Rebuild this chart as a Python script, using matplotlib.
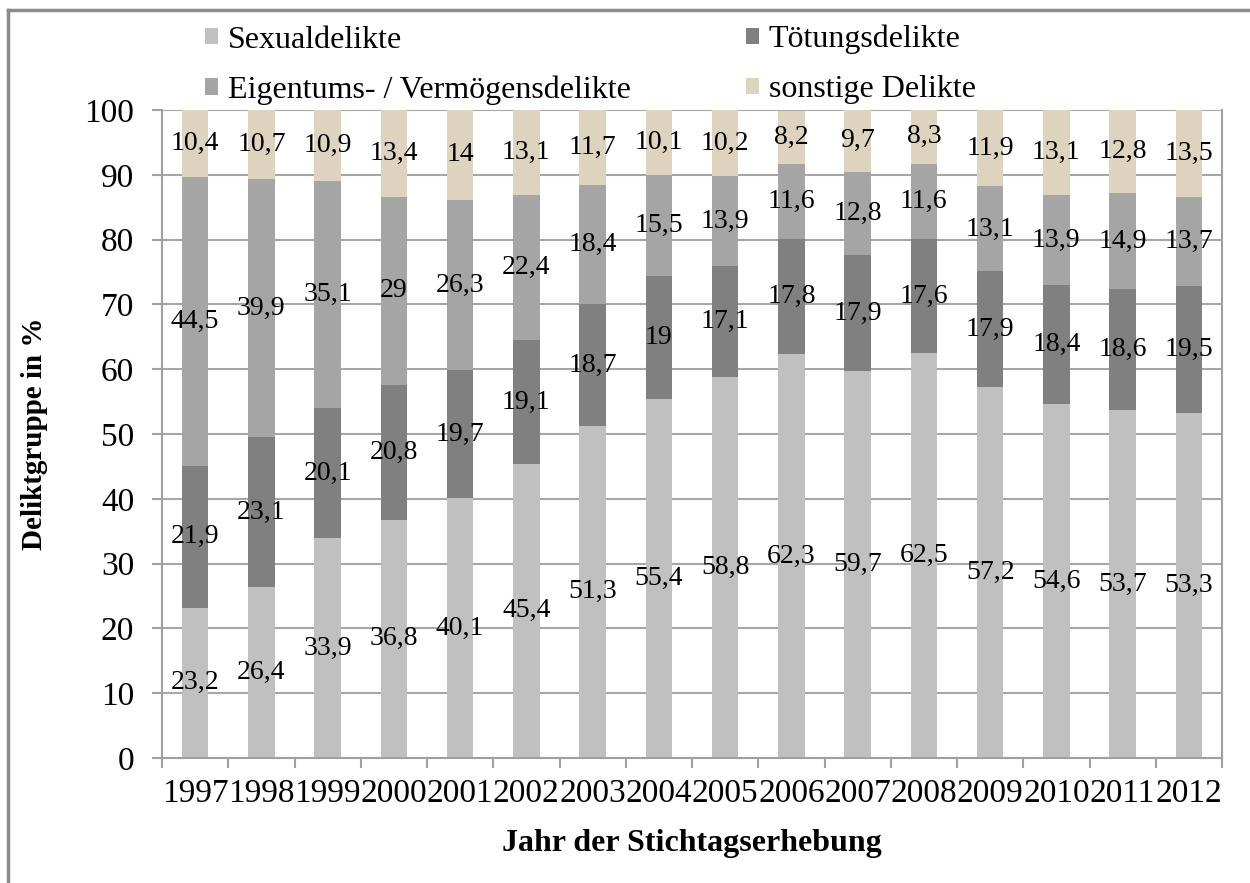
import matplotlib
matplotlib.use("Agg")
import matplotlib.pyplot as plt
from matplotlib.lines import Line2D
import numpy as np

years = ["1997", "1998", "1999", "2000", "2001", "2002", "2003", "2004",
         "2005", "2006", "2007", "2008", "2009", "2010", "2011", "2012"]
sexual = [23.2, 26.4, 33.9, 36.8, 40.1, 45.4, 51.3, 55.4, 58.8, 62.3, 59.7, 62.5, 57.2, 54.6, 53.7, 53.3]
toetung = [21.9, 23.1, 20.1, 20.8, 19.7, 19.1, 18.7, 19, 17.1, 17.8, 17.9, 17.6, 17.9, 18.4, 18.6, 19.5]
eigentum = [44.5, 39.9, 35.1, 29, 26.3, 22.4, 18.4, 15.5, 13.9, 11.6, 12.8, 11.6, 13.1, 13.9, 14.9, 13.7]
sonstige = [10.4, 10.7, 10.9, 13.4, 14, 13.1, 11.7, 10.1, 10.2, 8.2, 9.7, 8.3, 11.9, 13.1, 12.8, 13.5]

series_names = ["Sexualdelikte", "Tötungsdelikte", "Eigentums- / Vermögensdelikte", "sonstige Delikte"]
series_vals = [sexual, toetung, eigentum, sonstige]
colors = ["#c0c0c0", "#808080", "#a5a5a5", "#ddd3be"]

plt.rcParams['font.family'] = ['Liberation Serif', 'DejaVu Serif']

fig = plt.figure(figsize=(12.5, 8.83), dpi=100)
ax = fig.add_axes([162/1250, 1-758/883, 1060/1250, 648/883])

x = np.arange(len(years))
bottom = np.zeros(len(years))
handles = []
for name, vals, col in zip(series_names, series_vals, colors):
    vals = np.array(vals, dtype=float)
    b = ax.bar(x, vals, width=0.4, bottom=bottom, color=col, label=name, zorder=2)
    handles.append(b)
    for xi, bi, vi in zip(x, bottom, vals):
        txt = (str(int(vi)) if float(vi).is_integer() else f"{vi:.1f}").replace('.', ',')
        ax.text(xi, bi + vi / 2, txt, ha='center', va='center', fontsize=20, zorder=3)
    bottom += vals

ax.set_xlim(-0.5, len(years) - 0.5)
ax.set_ylim(0, 100)
ax.set_yticks(np.arange(0, 101, 10))
ax.yaxis.grid(True, color='#a6a6a6', linewidth=1.5, zorder=0)
ax.set_axisbelow(True)

for s in ['left', 'bottom', 'right']:
    ax.spines[s].set_color('#a0a0a0')
    ax.spines[s].set_linewidth(1.5)
ax.spines['top'].set_visible(False)

ax.set_xticks(x)
ax.set_xticklabels(years)
ax.set_xticks(np.arange(-0.5, len(years), 1.0), minor=True)
ax.tick_params(axis='x', which='major', length=0, pad=15, labelsize=24)
ax.tick_params(axis='x', which='minor', length=7.5, width=1.5, color='#a0a0a0', direction='out')
ax.tick_params(axis='y', length=7, width=1.5, color='#a0a0a0', pad=13, labelsize=24)

ax.set_xlabel("Jahr der Stichtagserhebung", fontsize=23, fontweight='bold')
ax.xaxis.set_label_coords(0.5, -0.11)
ax.set_ylabel("Deliktgruppe in %", fontsize=21, fontweight='bold')
ax.yaxis.set_label_coords(-0.108, 0.5)

order = [0, 2, 1, 3]
fig.legend([handles[i] for i in order], [series_names[i] for i in order],
           ncol=2, loc='upper left', bbox_to_anchor=(205/1250, 1-25/883),
           frameon=False, fontsize=23, borderpad=0, handlelength=0.42,
           handleheight=0.42, handletextpad=0.3, columnspacing=3.6,
           labelspacing=0.65, borderaxespad=0)

# figure border (top and left)
fig.add_artist(Line2D([8/1250, 1], [1-10/883, 1-10/883], color='#8c8c8c', lw=2.5, transform=fig.transFigure))
fig.add_artist(Line2D([8/1250, 8/1250], [0, 1-10/883], color='#8c8c8c', lw=2.5, transform=fig.transFigure))

fig.savefig("out.png", dpi=100)
